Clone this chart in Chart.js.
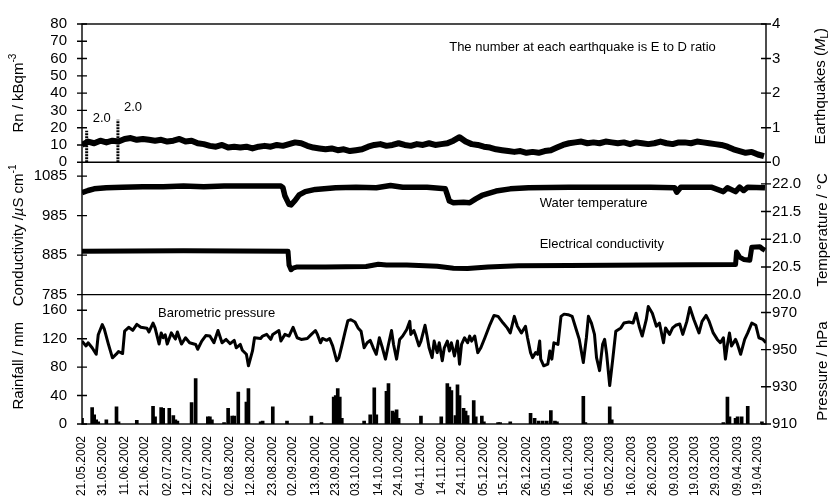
<!DOCTYPE html>
<html>
<head>
<meta charset="utf-8">
<script src="https://cdn.jsdelivr.net/npm/chart.js@4.4.0/dist/chart.umd.min.js"></script>
<style>
  html, body { margin: 0; padding: 0; background: #fff; }
</style>
</head>
<body>
<canvas id="canvas" width="832" height="498"></canvas>
<script>
// x axis is in days since 21.05.2002
let tickDays = [0, 10, 21, 31, 42, 52, 62, 73, 83, 94, 104, 115, 125, 135, 146, 156, 167,
  177, 187, 198, 208, 219, 229, 240, 250, 260, 271, 281, 292, 302, 312, 323, 333];
let tickLabels = ['21.05.2002', '31.05.2002', '11.06.2002', '21.06.2002', '02.07.2002', '12.07.2002',
  '22.07.2002', '02.08.2002', '12.08.2002', '23.08.2002', '02.09.2002', '13.09.2002', '23.09.2002',
  '03.10.2002', '14.10.2002', '24.10.2002', '04.11.2002', '14.11.2002', '24.11.2002', '05.12.2002',
  '15.12.2002', '26.12.2002', '05.01.2003', '16.01.2003', '26.01.2003', '05.02.2003', '16.02.2003',
  '26.02.2003', '09.03.2003', '19.03.2003', '29.03.2003', '09.04.2003', '19.04.2003'];

// radon, one reading every 3 days (kBq/m3)
let rnStep = 3;
let rn = [
  10, 12, 11, 12.5, 11.5, 12.5, 12, 13.5, 14, 13, 13.5, 13,
  12.5, 13, 12, 12.5, 13.5, 12, 12.5, 11, 10.5, 9.5, 9, 10,
  8.5, 9, 8.5, 9, 8, 9, 9.5, 9, 10, 9.5, 10.5, 11.5,
  11, 9.5, 8.5, 8, 7.5, 8, 7, 7.5, 6.5, 7, 7.5, 9,
  10, 10.5, 9.5, 10, 11, 10, 9.5, 10.5, 10, 11, 10, 10.5,
  11, 12.5, 14.5, 12, 10.5, 10, 9, 8.5, 7.5, 7, 6.5, 6,
  6.5, 5.5, 6, 5.5, 6.5, 7, 8.5, 10, 11, 11.5, 12, 11,
  11.5, 11, 12, 11.5, 11, 11.5, 10.5, 11.5, 11, 10.5, 11, 12,
  11, 10.5, 11.5, 11.5, 11, 12, 11.5, 11, 10.5, 10, 9, 7.5,
  6.5, 5.5, 6, 4.5, 3.5
];

// earthquakes (local magnitude) and their E to D ratio
let quakeDays = [2.3, 17.7];
let quakeMag = [0.91, 1.23];
let quakeRatio = ['2.0', '2.0'];

// water temperature (°C)
let tempDays = [0, 3, 6, 12, 20, 30, 40, 50, 60, 70, 80, 90, 98, 99, 100, 102, 103, 105, 107, 110,
  115, 125, 135, 145, 152, 158, 170, 179, 180, 181, 183, 188, 191, 194, 197, 204, 211, 220, 240,
  260, 280, 292, 293, 295, 310, 316, 318, 322, 324, 326, 328, 336.5];
let temp = [21.84, 21.88, 21.91, 21.93, 21.94, 21.95, 21.95, 21.96, 21.95, 21.96, 21.96, 21.96,
  21.96, 21.93, 21.78, 21.63, 21.62, 21.70, 21.80, 21.86, 21.90, 21.93, 21.94, 21.93, 21.97,
  21.94, 21.94, 21.91, 21.80, 21.69, 21.66, 21.67, 21.66, 21.73, 21.79, 21.87, 21.91, 21.93,
  21.94, 21.94, 21.94, 21.93, 21.85, 21.94, 21.94, 21.86, 21.93, 21.86, 21.94, 21.88, 21.94, 21.93];

// electrical conductivity (µS/cm)
let condDays = [0, 50, 101.5, 102, 103, 104, 106, 120, 140, 146, 150, 160, 175, 183, 190, 200, 215,
  240, 280, 322, 322.5, 324, 326, 329, 330, 334, 335.5, 336.5];
let cond = [895, 896, 895, 860, 848, 852, 855, 855, 856, 862, 860, 860, 857, 852, 851, 855, 858,
  859, 860, 861, 893, 880, 874, 872, 905, 906, 900, 897];

// daily rainfall (mm)
let rainDays = [0, 5, 6, 7, 8, 12, 17, 18, 27, 35, 36, 39, 40, 43, 45, 46, 47, 54, 56, 62, 63, 64,
  70, 72, 74, 75, 77, 81, 82, 88, 89, 94, 101, 113, 118, 124, 125, 126, 127, 128, 139, 142, 144,
  145, 150, 151, 153, 154, 155, 156, 167, 177, 180, 181, 182, 184, 185, 186, 188, 189, 190, 193,
  194, 197, 198, 205, 206, 211, 221, 223, 225, 227, 229, 231, 233, 234, 247, 248, 260, 261, 316,
  318, 319, 322, 323, 325, 328, 335];
let rain = [8, 23, 13, 6, 3, 6, 24, 3, 5, 25, 10, 23, 22, 22, 12, 6, 4, 30, 64, 10, 10, 6,
  2, 22, 11, 11, 45, 31, 50, 3, 4, 24, 4, 11, 2, 38, 40, 50, 38, 8, 4, 13, 51,
  13, 46, 57, 18, 16, 20, 8, 11, 10, 57, 52, 47, 12, 55, 40, 22, 18, 12, 33,
  10, 11, 3, 2, 2, 3, 15, 8, 4, 4, 4, 19, 4, 3, 39, 2, 24, 6, 2,
  38, 10, 8, 10, 10, 25, 3];

// barometric pressure (hPa)
let presDays = [0, 2, 3, 5, 7, 8, 10, 11, 13, 15, 17, 18, 20, 21, 23, 25, 27, 29, 32, 33, 35, 36,
  38, 39, 40, 41, 42, 44, 46, 47, 49, 51, 53, 56, 57, 59, 61, 63, 65, 67, 69, 71, 73, 75, 76, 78,
  79, 81, 82, 84, 85, 88, 89, 91, 93, 94, 97, 98, 100, 102, 104, 106, 108, 111,
  113, 115, 116, 117.5, 118.5, 120.5, 122, 123.5, 125.5, 126.5, 128, 129.5, 131, 132.5, 134.5,
  136, 137.5, 139, 140.5, 142, 143.5, 145, 146.5, 148, 149.5, 151, 152.5, 153.5, 155, 156.5, 158,
  160, 161.5, 162, 163.5, 164.5, 166, 167, 169, 170, 171, 172.5, 173.5, 175, 176, 177.5, 178.5,
  180, 181, 182, 183.5, 185, 186, 187, 188.5, 190, 191, 192, 193.5, 195, 196.5, 198.5, 201, 203,
  205, 207.5, 209.5, 211, 213, 214.5, 216.5, 218.5, 219.5, 221, 222, 223.5, 224.5, 225.5,
  226, 227.5, 229.5, 230.5, 231.5, 232.5, 234.5, 236, 237.5, 239.5, 241.5, 243.5, 245, 247, 248.5,
  249.5, 251, 252.5, 253.5, 255, 256.5, 257.5, 258.5, 260, 261.5, 263, 265.5, 267, 269.5, 271.5,
  273, 274.5, 276, 278, 279, 281, 283, 284.5, 286.5, 287.5, 289.5, 291, 292.5, 294.5, 296, 298,
  299.5, 301.5, 304, 305.5, 307.5, 309, 311, 313, 314.5, 316, 317, 318, 319, 320, 322, 323, 324.5,
  326.5, 328, 330, 332, 333.5, 335.5, 337];
let pres = [954.6, 952, 953.7, 951, 947.5, 958, 963.5, 961, 953, 945.6, 947.7, 949, 947.9, 960, 962,
  960.4, 963.6, 962, 961.5, 959.5, 964.3, 961.7, 953, 959, 956.4, 958, 953, 959, 955.7, 959.5, 953,
  956.4, 953.7, 952.8, 950.2, 954.6, 957.6, 957.3, 953.7, 960.3, 953.7, 955.5, 953.2, 955, 951,
  952.8, 949.7, 947.5, 941.3, 949.3, 956.4, 956, 957.3, 958.2, 955.5, 958.2, 960.3, 954.6, 958.2,
  957.3, 962, 956.4, 955.5, 956,
  958.2, 960.3, 958.2, 953.7, 956, 955, 956, 952, 944, 945.4, 952, 959, 965.6, 966.1, 964.9,
  961.7, 959.9, 951, 953.7, 955, 951, 947.5, 956.4, 951, 944.9, 952.8, 960.3, 952.8, 944.9, 955.5,
  957.3, 960.8, 965.2, 958.2, 960.3, 957.3, 952, 954.6, 963.1, 957.3, 951, 945.7, 954.6, 948.4,
  953.7, 944, 951, 954.6, 949.3, 953.7, 946.6, 954.6, 942.2, 952.8, 956.4, 953.7, 957.3, 954.6,
  957.3, 948.4, 951, 956.4, 963.5, 968.4, 967.9, 964.3, 961.7, 959, 967.9, 962.6, 959, 962.6,
  956.4, 948.4, 945.7, 948.4, 947.5, 954.6,
  944.9, 941.3, 942.2, 949.3, 944.9, 953.7, 952.8, 967.9, 969.1, 968.8, 967.9, 960.8, 955.5, 943.1,
  956.4, 967.9, 964.3, 958.2, 945.7, 938.7, 952.8, 955.5, 947.5, 930.7, 944.9, 959.9, 961.7, 964.3,
  964.9, 964.3, 969.6, 962.6, 957.3, 966.1, 973.2, 969.6, 962.6, 964.3, 953.7, 961.7, 958.2, 961.7,
  963.1, 963.8, 958.2, 965.2, 972.7, 966.1, 959, 965.2, 968.4, 965.2, 959, 955.5, 953.7, 956.4,
  944.9, 952.8, 959, 952, 955.5, 952.8, 947.5, 955.5, 959, 964.3, 963.1, 956.4, 955.5, 953.7];

// tick positions on the six y axes
let rnTicks = [0, 10, 20, 30, 40, 50, 60, 70, 80];
let eqTicks = [0, 1, 2, 3, 4];
let condTicks = [785, 885, 985, 1085];
let tempTicks = [20, 20.5, 21, 21.5, 22];
let rainTicks = [0, 40, 80, 120, 160];
let presTicks = [910, 930, 950, 970];

const FONT = '"Liberation Sans", Arial, sans-serif';
Chart.defaults.font.family = FONT;
Chart.defaults.color = '#000';

const xy = (days, vals) => days.map((d, i) => ({ x: d, y: vals[i] }));

const rnData = rn.map((v, i) => ({ x: i * rnStep, y: v }));

// each quake is a vertical stroke from 0 up to its magnitude
const quakeData = [];
quakeDays.forEach((d, i) => {
  quakeData.push({ x: d, y: 0 }, { x: d, y: quakeMag[i] }, { x: d, y: null });
});

function yAxis(pos, weight, stackWeight, min, max, ticks, digits) {
  return {
    type: 'linear',
    position: pos,
    stack: pos,
    stackWeight: stackWeight,
    weight: weight,
    min: min,
    max: max,
    afterBuildTicks: axis => { axis.ticks = ticks.map(v => ({ value: v })); },
    afterFit: axis => { axis.width = pos === 'left' ? 82 : 66; },
    grid: { display: false, drawTicks: false },
    border: { display: false },
    ticks: {
      autoSkip: false,
      padding: pos === 'left' ? 15 : 6,
      font: { size: 15 },
      callback: v => v.toFixed(digits)
    }
  };
}

// panel frame, separators and ticks crossing the axis lines
const framePlugin = {
  id: 'frame',
  afterDraw(chart) {
    const { ctx, chartArea: a, scales } = chart;
    ctx.save();
    ctx.strokeStyle = '#000';
    ctx.lineWidth = 1.4;
    ctx.strokeRect(a.left, a.top, a.width, a.height);
    ctx.beginPath();
    [scales.yRn.bottom, scales.yCond.bottom].forEach(y => {
      ctx.moveTo(a.left, y); ctx.lineTo(a.right, y);
    });
    ['yRn', 'yCond', 'yRain'].forEach(id => {
      const s = scales[id];
      s.ticks.forEach(t => {
        const y = s.getPixelForValue(t.value);
        ctx.moveTo(a.left - 5, y); ctx.lineTo(a.left + 5, y);
      });
    });
    ['yEq', 'yTemp', 'yPres'].forEach(id => {
      const s = scales[id];
      s.ticks.forEach(t => {
        const y = s.getPixelForValue(t.value);
        ctx.moveTo(a.right - 5, y); ctx.lineTo(a.right + 5, y);
      });
    });
    ctx.stroke();
    ctx.restore();
  }
};

// rotated axis titles with italics, super- and subscripts
function drawRich(ctx, parts, cx, cy) {
  const fontFor = s => (s === 'i' ? 'italic 15px ' : (s === 'sup' || s === 'sub') ? '10px ' : '15px ') + FONT;
  ctx.save();
  ctx.translate(cx, cy);
  ctx.rotate(-Math.PI / 2);
  ctx.fillStyle = '#000';
  ctx.textBaseline = 'alphabetic';
  let w = 0;
  parts.forEach(([t, s]) => { ctx.font = fontFor(s); w += ctx.measureText(t).width; });
  let x = -w / 2;
  parts.forEach(([t, s]) => {
    ctx.font = fontFor(s);
    const dy = s === 'sup' ? -7 : s === 'sub' ? 3 : 0;
    ctx.fillText(t, x, 5 + dy);
    x += ctx.measureText(t).width;
  });
  ctx.restore();
}

const labelPlugin = {
  id: 'labels',
  afterDraw(chart) {
    const { ctx, scales } = chart;
    const x = scales.x;
    ctx.save();
    ctx.fillStyle = '#000';
    ctx.font = '13px ' + FONT;
    ctx.textBaseline = 'middle';

    const notes = [
      ['The number at each earthquake is E to D ratio', 'yEq', 246.6, 3.31, 'center'],
      ['Water temperature', 'yTemp', 225.5, 21.64, 'left'],
      ['Electrical conductivity', 'yCond', 225.5, 912, 'left'],
      ['Barometric pressure', 'yPres', 37.5, 969.5, 'left']
    ];
    notes.forEach(([t, id, d, v, align]) => {
      ctx.textAlign = align;
      ctx.fillText(t, x.getPixelForValue(d), scales[id].getPixelForValue(v));
    });

    ctx.textAlign = 'left';
    quakeDays.forEach((d, i) => {
      ctx.fillText(quakeRatio[i], x.getPixelForValue(d) + 6, scales.yEq.getPixelForValue(quakeMag[i]) - 12);
    });
    ctx.restore();

    drawRich(ctx, [['Rn / kBqm', ''], ['-3', 'sup']], 18, scales.yRn.getPixelForValue(40));
    drawRich(ctx, [['Conductivity /', ''], ['\u00b5', 'i'], ['S cm', ''], ['-1', 'sup']], 18, scales.yCond.getPixelForValue(935));
    drawRich(ctx, [['Rainfall / mm', '']], 18, scales.yRain.getPixelForValue(82));
    drawRich(ctx, [['Earthquakes (', ''], ['M', 'i'], ['L', 'sub'], [')', '']], 820, scales.yEq.getPixelForValue(2.2));
    drawRich(ctx, [['Temperature / \u00b0C', '']], 822, scales.yTemp.getPixelForValue(21.17));
    drawRich(ctx, [['Pressure / hPa', '']], 822, scales.yPres.getPixelForValue(938.5));
  }
};

const line = (data, axis, width, extra) => Object.assign({
  type: 'line',
  data: data,
  yAxisID: axis,
  borderColor: '#000',
  borderWidth: width,
  borderJoinStyle: 'round',
  pointRadius: 0,
  tension: 0,
  fill: false
}, extra || {});

let chart = new Chart(document.getElementById('canvas'), {
  type: 'line',
  data: {
    datasets: [
      line(rnData, 'yRn', 6),
      line(quakeData, 'yEq', 3, { borderDash: [2, 1], borderCapStyle: 'butt', spanGaps: false }),
      line(xy(tempDays, temp), 'yTemp', 5.5),
      line(xy(condDays, cond), 'yCond', 5),
      line(xy(presDays, pres), 'yPres', 3),
      {
        type: 'bar',
        data: xy(rainDays, rain),
        yAxisID: 'yRain',
        backgroundColor: '#000',
        borderWidth: 0,
        barThickness: 3
      }
    ]
  },
  options: {
    responsive: false,
    animation: false,
    layout: { padding: { top: 19, left: 0, right: 0, bottom: 0 } },
    plugins: { legend: { display: false }, tooltip: { enabled: false } },
    scales: {
      x: {
        type: 'linear',
        min: 0,
        max: 337,
        offset: false,
        afterBuildTicks: axis => { axis.ticks = tickDays.map(v => ({ value: v })); },
        afterFit: axis => { axis.height = 74; },
        grid: { display: false, drawTicks: false },
        border: { display: false },
        ticks: {
          autoSkip: false,
          minRotation: 90,
          maxRotation: 90,
          padding: 12,
          font: { size: 12 },
          callback: (v, i) => tickLabels[i]
        }
      },
      yRn: yAxis('left', 3, 140, 0, 80, rnTicks, 0),
      yCond: yAxis('left', 2, 134, 785, 1120, condTicks, 0),
      yRain: yAxis('left', 1, 131, 0, 182, rainTicks, 0),
      yEq: yAxis('right', 1, 140, 0, 4, eqTicks, 0),
      yTemp: yAxis('right', 2, 134, 20, 22.39, tempTicks, 1),
      yPres: yAxis('right', 3, 131, 910, 979.6, presTicks, 0)
    }
  },
  plugins: [framePlugin, labelPlugin]
});
</script>
</body>
</html>
